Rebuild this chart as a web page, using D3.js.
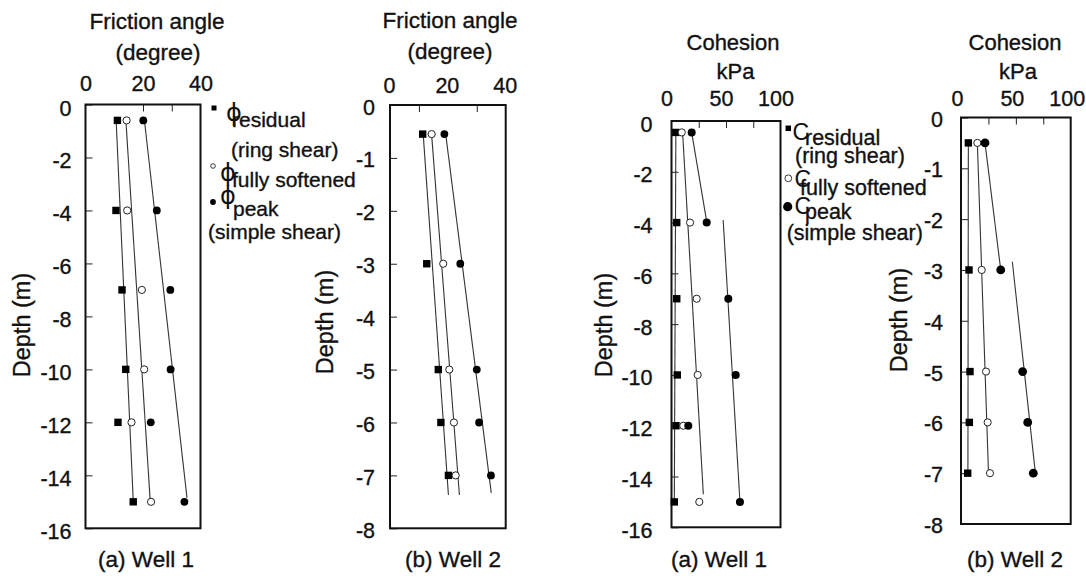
<!DOCTYPE html>
<html><head><meta charset="utf-8">
<script src="https://cdn.jsdelivr.net/npm/d3@7"></script>
<style>
body{margin:0;background:#fff;}
svg{display:block;}
</style></head><body>
<svg id="chart" width="1086" height="576"></svg>
<script>
// ---------------- DATA ----------------
const depthW1 = [-0.6, -4, -7, -10, -12, -15];
const depthW2 = [-0.55, -3, -5, -6, -7];

const phiResidualW1 = [11.1, 10.6, 12.7, 14.0, 11.3, 16.6];
const phiSoftW1     = [14.3, 14.5, 19.6, 20.4, 16.0, 22.8];
const phiPeakW1     = [20.1, 24.8, 29.5, 29.6, 22.7, 34.4];

const phiResidualW2 = [11.3, 12.7, 16.7, 17.6, 20.2];
const phiSoftW2     = [14.4, 18.4, 20.5, 22.1, 22.7];
const phiPeakW2     = [18.8, 24.3, 30.0, 30.8, 34.9];

const cResidualW1 = [3.9, 4.8, 4.8, 5.3, 4.1, 2.6];
const cSoftW1     = [9.4, 17.0, 23.1, 24.0, 10.8, 25.5];
const cPeakW1     = [18.5, 32.3, 52.1, 58.9, 15.4, 62.8];

const cResidualW2 = [6.7, 7.3, 8.2, 7.6, 6.1];
const cSoftW2     = [14.9, 18.9, 22.8, 24.3, 26.4];
const cPeakW2     = [21.9, 36.2, 56.2, 60.8, 65.9];

// trend lines: [value, depth]
const phiResidualFitW1 = [[10.7, -0.7], [16.6, -14.95]];
const phiSoftFitW1     = [[14.1, -0.7], [22.5, -14.95]];
const phiPeakFitW1     = [[20.6, -0.7], [35.3, -14.85]];

const phiResidualFitW2 = [[11.5, -0.57], [20.2, -7.37]];
const phiSoftFitW2     = [[14.4, -0.57], [24.0, -7.37]];
const phiPeakFitW2     = [[19.3, -0.57], [35.0, -7.33]];

const cResidualFitW1 = [[4.0, -0.45], [2.6, -14.9]];
const cSoftFitW1     = [[10.2, -0.45], [29.2, -14.7]];
const cPeakFitW1a    = [[18.5, -0.45], [32.3, -3.96]];
const cPeakFitW1b    = [[47.4, -3.9], [62.6, -14.86]];

const cResidualFitW2 = [[6.7, -0.5], [6.3, -7.0]];
const cSoftFitW2     = [[14.9, -0.5], [25.0, -6.95]];
const cPeakFitW2a    = [[21.9, -0.5], [36.2, -3.0]];
const cPeakFitW2b    = [[46.8, -2.84], [67.5, -6.94]];

// axes
const phiTicks = [0, 20, 40];
const cTicks = [0, 50, 100];
const phiMinorW1 = [20, 30];
const phiMinorW2 = [10, 30];
const cMinor = [25, 50, 75];
const depthTicksW1 = [0, -2, -4, -6, -8, -10, -12, -14, -16];
const depthTicksW2 = [0, -1, -2, -3, -4, -5, -6, -7, -8];

// texts
const titlesPhi = ["Friction angle", "(degree)"];
const titlesC = ["Cohesion", "kPa"];
const depthLabel = "Depth (m)";
const wellLabels = ["(a) Well 1", "(b) Well 2"];

// ---------------- DRAW ----------------
const FONT = '"Liberation Sans", Arial, Helvetica, sans-serif';
const INK = '#111';
const svg = d3.select('#chart');
svg.append('rect').attr('width', 1086).attr('height', 576).attr('fill', '#fff');

function ink(sel) {
  return sel.attr('fill', INK).attr('stroke', INK).attr('stroke-width', 0.35);
}

function panel(cfg) {
  const x = d3.scaleLinear().domain(cfg.xDomain).range([cfg.left, cfg.right]);
  const y = d3.scaleLinear().domain([0, cfg.yMin]).range([cfg.top, cfg.bottom]);
  const g = svg.append('g');

  // top tick labels
  const gx = g.append('g')
    .attr('transform', `translate(${cfg.xLabelShift},${cfg.top})`)
    .call(d3.axisTop(x).tickValues(cfg.xTicks).tickSize(0).tickPadding(cfg.xPad)
      .tickFormat(d => String(d)));
  gx.attr('font-size', 21.5).attr('font-family', FONT);
  gx.select('.domain').remove();
  ink(gx.selectAll('text'));

  // top minor inward ticks
  const gm = g.append('g')
    .attr('transform', `translate(0,${cfg.top})`)
    .call(d3.axisTop(x).tickValues(cfg.xMinor).tickSize(-7).tickFormat(''));
  gm.select('.domain').remove();
  gm.selectAll('line').attr('stroke', '#222').attr('stroke-width', 1);

  // left axis
  const gy = g.append('g')
    .attr('transform', `translate(${cfg.left},0)`)
    .call(d3.axisLeft(y).tickValues(cfg.yTicks).tickSizeInner(-7).tickSizeOuter(0)
      .tickPadding(cfg.yPad).tickFormat(d => String(d)));
  gy.attr('font-size', 21.5).attr('font-family', FONT);
  gy.select('.domain').remove();
  gy.selectAll('line').attr('stroke', '#222').attr('stroke-width', 1);
  ink(gy.selectAll('text')).attr('dy', null)
    .attr('transform', `translate(0,${cfg.yLabelShift})`)
    .attr('dominant-baseline', 'central');

  // frame
  g.append('rect')
    .attr('x', cfg.left).attr('y', cfg.top)
    .attr('width', cfg.right - cfg.left).attr('height', cfg.bottom - cfg.top)
    .attr('fill', 'none').attr('stroke', '#111').attr('stroke-width', 2);

  // trend lines
  const line = d3.line().x(d => x(d[0])).y(d => y(d[1]));
  cfg.fits.forEach(f => {
    g.append('path').attr('d', line(f)).attr('fill', 'none')
      .attr('stroke', '#333').attr('stroke-width', 1.1);
  });

  // markers
  const depth = cfg.depth;
  g.selectAll(null).data(cfg.residual.map((v, i) => [v, depth[i]])).join('rect')
    .attr('x', d => x(d[0]) - 3.7).attr('y', d => y(d[1]) - 3.7)
    .attr('width', 7.4).attr('height', 7.4).attr('fill', '#000');
  g.selectAll(null).data(cfg.soft.map((v, i) => [v, depth[i]])).join('circle')
    .attr('cx', d => x(d[0])).attr('cy', d => y(d[1])).attr('r', 3.6)
    .attr('fill', '#fff').attr('stroke', '#222').attr('stroke-width', 1);
  g.selectAll(null).data(cfg.peak.map((v, i) => [v, depth[i]])).join('circle')
    .attr('cx', d => x(d[0])).attr('cy', d => y(d[1])).attr('r', cfg.peakR)
    .attr('fill', '#000');

  // titles
  const t = g.append('g').attr('font-family', FONT).attr('text-anchor', 'middle');
  ink(t.append('text').attr('x', cfg.title1[0]).attr('y', cfg.title1[1]).attr('font-size', cfg.titleSize).text(cfg.titles[0]));
  ink(t.append('text').attr('x', cfg.title2[0]).attr('y', cfg.title2[1]).attr('font-size', cfg.titleSize).text(cfg.titles[1]));
  ink(t.append('text').attr('x', cfg.well[0]).attr('y', cfg.well[1]).attr('font-size', 22.5).text(cfg.wellLabel));
  ink(t.append('text').attr('transform', `translate(${cfg.depthPos[0]},${cfg.depthPos[1]}) rotate(-90)`)
    .attr('font-size', 23.5).text(depthLabel));
}

panel({
  xDomain: [0, 40], left: 85.5, right: 200.5, top: 104.5, bottom: 528.3, yMin: -16,
  xTicks: phiTicks, xMinor: phiMinorW1, yTicks: depthTicksW1, xPad: 13.5, xLabelShift: 0,
  yPad: 14, yLabelShift: 3.5,
  depth: depthW1, residual: phiResidualW1, soft: phiSoftW1, peak: phiPeakW1, peakR: 3.9,
  fits: [phiResidualFitW1, phiSoftFitW1, phiPeakFitW1],
  titles: titlesPhi, title1: [157, 29.3], title2: [158, 60], titleSize: 22.5,
  well: [146, 567], wellLabel: wellLabels[0], depthPos: [30, 325]
});
panel({
  xDomain: [0, 40], left: 390, right: 505.7, top: 105, bottom: 528.3, yMin: -8,
  xTicks: phiTicks, xMinor: phiMinorW2, yTicks: depthTicksW2, xPad: 12.3, xLabelShift: -1,
  yPad: 15, yLabelShift: 2,
  depth: depthW2, residual: phiResidualW2, soft: phiSoftW2, peak: phiPeakW2, peakR: 3.9,
  fits: [phiResidualFitW2, phiSoftFitW2, phiPeakFitW2],
  titles: titlesPhi, title1: [450, 28.3], title2: [450, 59.3], titleSize: 22.5,
  well: [453, 567], wellLabel: wellLabels[1], depthPos: [333, 322]
});
panel({
  xDomain: [0, 100], left: 671.5, right: 780.5, top: 121, bottom: 527.3, yMin: -16,
  xTicks: cTicks, xMinor: cMinor, yTicks: depthTicksW1, xPad: 15, xLabelShift: -5,
  yPad: 19, yLabelShift: 3,
  depth: depthW1.map(d => d === -0.6 ? -0.45 : d), residual: cResidualW1, soft: cSoftW1, peak: cPeakW1, peakR: 4,
  fits: [cResidualFitW1, cSoftFitW1, cPeakFitW1a, cPeakFitW1b],
  titles: titlesC, title1: [733, 50], title2: [735.5, 79], titleSize: 22,
  well: [719, 567], wellLabel: wellLabels[0], depthPos: [611.5, 325]
});
panel({
  xDomain: [0, 100], left: 961, right: 1070.7, top: 117.5, bottom: 524, yMin: -8,
  xTicks: cTicks, xMinor: cMinor, yTicks: depthTicksW2, xPad: 11.5, xLabelShift: -4,
  yPad: 18, yLabelShift: 1.5,
  depth: depthW2.map(d => d === -0.55 ? -0.5 : d), residual: cResidualW2, soft: cSoftW2, peak: cPeakW2, peakR: 4.4,
  fits: [cResidualFitW2, cSoftFitW2, cPeakFitW2a, cPeakFitW2b],
  titles: titlesC, title1: [1015, 50], title2: [1018, 79], titleSize: 22,
  well: [1015, 567], wellLabel: wellLabels[1], depthPos: [906.5, 320]
});

// ---------------- LEGENDS ----------------
const legendPhi = [
  { sym: 'ϕ', sub: 'residual', note: '(ring shear)' },
  { sym: 'ϕ', sub: 'fully softened', note: null },
  { sym: 'ϕ', sub: 'peak', note: '(simple shear)' }
];
const legendC = [
  { sym: 'C', sub: 'residual', note: '(ring shear)' },
  { sym: 'C', sub: 'fully softened', note: null },
  { sym: 'C', sub: 'peak', note: '(simple shear)' }
];

function legend(items, L) {
  const g = svg.append('g');
  g.append('rect').attr('x', L.mk[0][0] - L.sq / 2).attr('y', L.mk[0][1] - L.sq / 2)
    .attr('width', L.sq).attr('height', L.sq).attr('fill', '#000');
  g.append('circle').attr('cx', L.mk[1][0]).attr('cy', L.mk[1][1]).attr('r', L.ro)
    .attr('fill', '#fff').attr('stroke', '#222').attr('stroke-width', 0.9);
  g.append('circle').attr('cx', L.mk[2][0]).attr('cy', L.mk[2][1]).attr('r', L.rf).attr('fill', '#000');
  items.forEach((it, i) => {
    g.append('text').attr('x', L.sym[i][0]).attr('y', L.sym[i][1]).attr('fill', INK)
      .attr('font-family', L.symFont).attr('font-size', L.symSize).text(it.sym);
    ink(g.append('text').attr('x', L.sub[i][0]).attr('y', L.sub[i][1])
      .attr('font-family', FONT).attr('font-size', L.size).text(it.sub));
    if (it.note) {
      ink(g.append('text').attr('x', L.note[i][0]).attr('y', L.note[i][1])
        .attr('font-family', FONT).attr('font-size', L.size).text(it.note));
    }
  });
}

legend(legendPhi, {
  mk: [[214, 108], [213, 166], [213, 202]], sq: 5, ro: 2.3, rf: 2.9,
  sym: [[226, 121], [220, 181], [220, 204]], symFont: '"DejaVu Sans", sans-serif', symSize: 24,
  sub: [[232, 127], [232, 187], [233, 216]],
  note: [[231, 157], null, [208, 239]], size: 21
});
legend(legendC, {
  mk: [[788.3, 128.3], [788.3, 178.3], [787.7, 206.7]], sq: 5.5, ro: 3.4, rf: 4.6,
  sym: [[792.5, 140], [794.5, 187], [794.5, 214]], symFont: FONT, symSize: 23,
  sub: [[805, 145], [800, 194.5], [805, 219]],
  note: [[795, 163], null, [786.7, 239.5]], size: 21.5
});
</script>
</body></html>
